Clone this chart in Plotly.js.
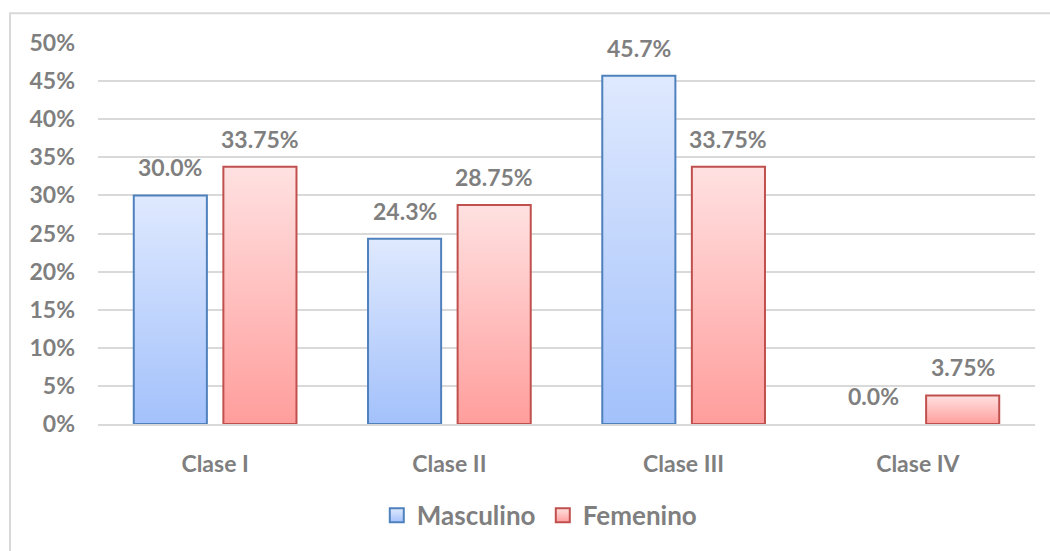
<!DOCTYPE html>
<html><head><meta charset="utf-8">
<script src="https://cdn.plot.ly/plotly-3.0.1.min.js"></script>
<style>html,body{margin:0;padding:0;background:#fff}#chart{width:1050px;height:551px}</style>
</head><body><div id="chart"></div>
<script>
const categories = ['Clase I', 'Clase II', 'Clase III', 'Clase IV'];
const seriesNames = ['Masculino', 'Femenino'];
const masculino = [30.0, 24.3, 45.7, 0.0];
const femenino = [33.75, 28.75, 33.75, 3.75];
const masculinoLabels = ['30.0%', '24.3%', '45.7%', '0.0%'];
const femeninoLabels = ['33.75%', '28.75%', '33.75%', '3.75%'];
const yTickVals = [0, 5, 10, 15, 20, 25, 30, 35, 40, 45, 50];
const yTickText = ['0%', '5%', '10%', '15%', '20%', '25%', '30%', '35%', '40%', '45%', '50%'];

const FONT = 'Lato, "Open Sans", sans-serif';
const GRAY = '#7f7f7f';

// zero-height bars get no outline (as in the reference)
const outline = vals => vals.map(v => (v > 0 ? 2 : 0));

const traces = [
  {type: 'bar', name: seriesNames[0], x: categories, y: masculino,
   marker: {color: '#c3d6fc', line: {color: '#4f81bd', width: outline(masculino)}}, hoverinfo: 'none'},
  {type: 'bar', name: seriesNames[1], x: categories, y: femenino,
   marker: {color: '#ffbdbd', line: {color: '#c0504d', width: outline(femenino)}}, hoverinfo: 'none'}
];

const annotations = [];
[[masculino, masculinoLabels, -44.75], [femenino, femeninoLabels, 44.75]].forEach(([vals, labs, dx]) => {
  categories.forEach((c, j) => {
    annotations.push({x: c, y: vals[j], xref: 'x', yref: 'y', text: labs[j], showarrow: false,
      xshift: dx, yshift: 12, yanchor: 'bottom', xanchor: 'center',
      font: {family: FONT, size: 23, color: GRAY, weight: 'bold'}});
  });
});

const layout = {
  width: 1050, height: 551,
  margin: {l: 98, r: 15, t: 43, b: 125},
  paper_bgcolor: '#ffffff', plot_bgcolor: '#ffffff',
  font: {family: FONT, color: GRAY, weight: 'bold'},
  barmode: 'group', bargap: 0.235, bargroupgap: 0.184,
  showlegend: true,
  legend: {orientation: 'h', x: 0.4747, xanchor: 'center', y: -0.24, yanchor: 'middle',
    entrywidth: 121, entrywidthmode: 'pixels',
    font: {family: FONT, size: 26, color: GRAY, weight: 'bold'}, itemclick: false, itemdoubleclick: false},
  xaxis: {type: 'category', ticks: '', showgrid: false, zeroline: false,
    showline: true, linecolor: '#d9d9d9', linewidth: 2, ticklabelstandoff: 18,
    tickfont: {family: FONT, size: 23, color: GRAY, weight: 'bold'}, fixedrange: true},
  yaxis: {range: [0, 50], tickvals: yTickVals, ticktext: yTickText, ticks: '',
    showgrid: true, gridcolor: '#d9d9d9', gridwidth: 2, zeroline: false, showline: false,
    ticklabelstandoff: 22,
    tickfont: {family: FONT, size: 23, color: GRAY, weight: 'bold'}, fixedrange: true},
  annotations: annotations,
  shapes: [{type: 'rect', xref: 'paper', yref: 'paper', x0: -0.0939, x1: 1.05, y0: -0.6, y1: 1.078,
    line: {color: '#d9d9d9', width: 2}, fillcolor: 'rgba(0,0,0,0)', layer: 'below'}]
};

const gradStops = [
  [['0%', '#dfe9fe'], ['100%', '#a3c1fb']],
  [['0%', '#ffe1e1'], ['100%', '#ff9e9c']]
];
function applyGradients(gd) {
  const ns = 'http://www.w3.org/2000/svg';
  const svg = gd.querySelector('.main-svg');
  let defs = svg.querySelector('defs');
  if (!defs) { defs = document.createElementNS(ns, 'defs'); svg.insertBefore(defs, svg.firstChild); }
  gradStops.forEach((stops, i) => {
    const id = 'barGrad' + i;
    if (!document.getElementById(id)) {
      const lg = document.createElementNS(ns, 'linearGradient');
      lg.setAttribute('id', id);
      lg.setAttribute('x1', '0'); lg.setAttribute('y1', '0');
      lg.setAttribute('x2', '0'); lg.setAttribute('y2', '1');
      stops.forEach(([o, c]) => {
        const s = document.createElementNS(ns, 'stop');
        s.setAttribute('offset', o); s.setAttribute('stop-color', c);
        lg.appendChild(s);
      });
      defs.appendChild(lg);
    }
  });
  gd.querySelectorAll('.barlayer .trace').forEach((t, i) => {
    t.querySelectorAll('path').forEach(p => { p.style.fill = 'url(#barGrad' + i + ')'; });
  });
  gd.querySelectorAll('.legend .traces').forEach((t, i) => {
    t.querySelectorAll('.legendpoints path').forEach(p => {
      p.style.fill = 'url(#barGrad' + i + ')';
      p.setAttribute('d', 'M7,7H-7V-7H7Z');
    });
  });
}

Plotly.newPlot('chart', traces, layout, {displayModeBar: false, staticPlot: true}).then(gd => {
  applyGradients(gd);
  gd.on('plotly_afterplot', () => applyGradients(gd));
});
</script>
</body></html>
